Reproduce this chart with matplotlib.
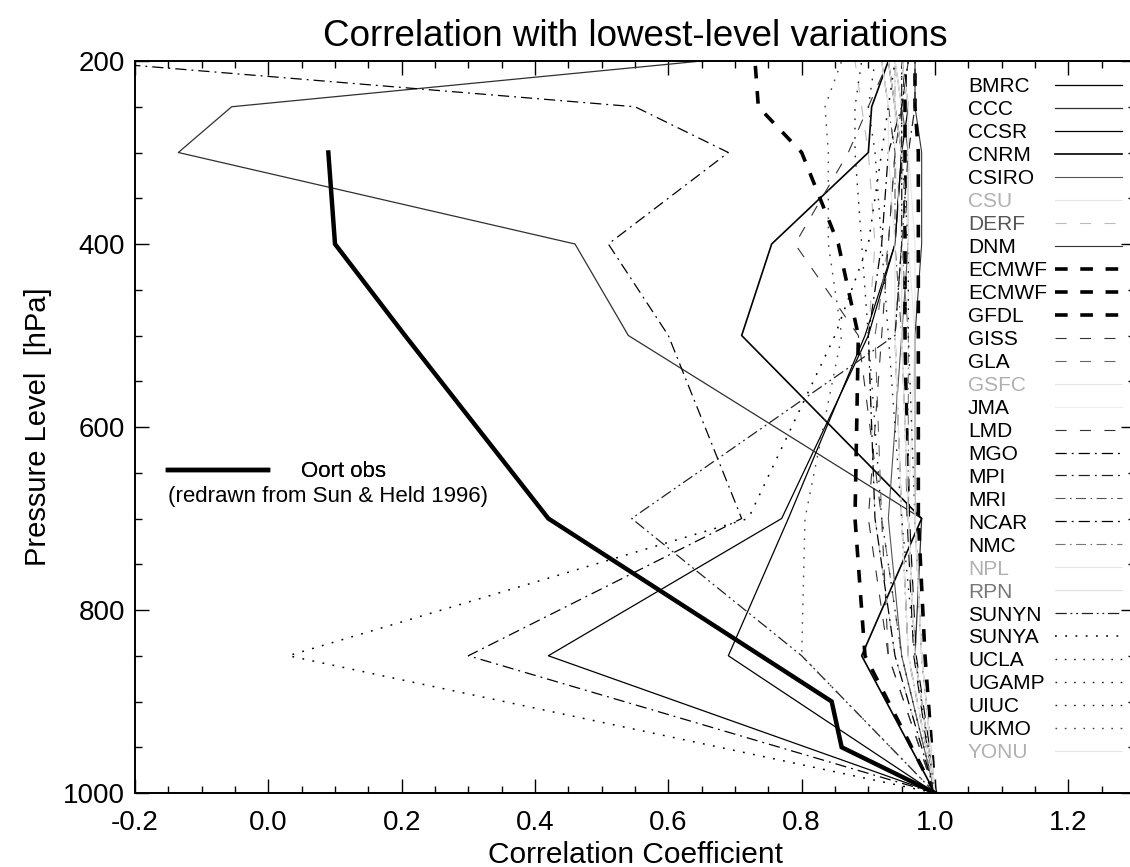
import matplotlib
matplotlib.use("Agg")
import matplotlib.pyplot as plt
from matplotlib.lines import Line2D

plt.rcParams['font.family'] = ['Liberation Sans', 'DejaVu Sans']

# ---------------- data ----------------
levels = [1000, 850, 700, 500, 400, 300, 250, 200]

oort_levels = [1000, 950, 900, 700, 500, 400, 300]
oort_corr = [1.0, 0.86, 0.845, 0.42, 0.205, 0.10, 0.09]

models = ["BMRC", "CCC", "CCSR", "CNRM", "CSIRO", "CSU", "DERF", "DNM",
          "ECMWF", "ECMWF", "GFDL", "GISS", "GLA", "GSFC", "JMA", "LMD",
          "MGO", "MPI", "MRI", "NCAR", "NMC", "NPL", "RPN", "SUNYN",
          "SUNYA", "UCLA", "UGAMP", "UIUC", "UKMO", "YONU"]

corr = {
    "BMRC":  [1.0, 0.42, 0.77, 0.90, 0.94, 0.95, 0.94, 0.93],
    "CCC":   [1.0, 0.97, 0.98, 0.54, 0.46, -0.135, -0.055, 0.65],
    "CCSR":  [1.0, 0.69, 0.78, 0.895, 0.94, 0.95, 0.96, 0.95],
    "CNRM":  [1.0, 0.89, 0.98, 0.71, 0.755, 0.90, 0.905, 0.93],
    "CSIRO": [1.0, 0.95, 0.93, 0.95, 0.96, 0.96, 0.95, 0.94],
    "CSU":   [1.0, 0.97, 0.96, 0.97, 0.97, 0.96, 0.96, 0.95],
    "DERF":  [1.0, 0.94, 0.91, 0.90, 0.91, 0.90, 0.89, 0.88],
    "DNM":   [1.0, 0.98, 0.97, 0.97, 0.98, 0.98, 0.97, 0.97],
    "ECMWF": [1.0, 0.895, 0.88, 0.885, 0.855, 0.80, 0.735, 0.73],
    "ECMWF2":[1.0, 0.97, 0.96, 0.955, 0.955, 0.955, 0.955, 0.955],
    "GFDL":  [1.0, 0.985, 0.975, 0.975, 0.975, 0.975, 0.97, 0.97],
    "GISS":  [1.0, 0.93, 0.92, 0.885, 0.79, 0.87, 0.90, 0.93],
    "GLA":   [1.0, 0.95, 0.92, 0.91, 0.93, 0.94, 0.93, 0.92],
    "GSFC":  [1.0, 0.97, 0.96, 0.95, 0.95, 0.94, 0.94, 0.93],
    "JMA":   [1.0, 0.98, 0.97, 0.96, 0.96, 0.95, 0.95, 0.94],
    "LMD":   [1.0, 0.93, 0.90, 0.92, 0.93, 0.94, 0.95, 0.96],
    "MGO":   [1.0, 0.30, 0.71, 0.60, 0.51, 0.69, 0.55, -0.28],
    "MPI":   [1.0, 0.96, 0.95, 0.94, 0.95, 0.96, 0.97, 0.97],
    "MRI":   [1.0, 0.97, 0.96, 0.95, 0.94, 0.94, 0.93, 0.92],
    "NCAR":  [1.0, 0.94, 0.91, 0.90, 0.92, 0.93, 0.95, 0.96],
    "NMC":   [1.0, 0.97, 0.96, 0.96, 0.95, 0.95, 0.94, 0.94],
    "NPL":   [1.0, 0.96, 0.95, 0.94, 0.94, 0.93, 0.93, 0.92],
    "RPN":   [1.0, 0.97, 0.96, 0.95, 0.95, 0.95, 0.94, 0.94],
    "SUNYN": [1.0, 0.80, 0.545, 0.94, 0.95, 0.95, 0.95, 0.95],
    "SUNYA": [1.0, 0.03, 0.72, 0.85, 0.90, 0.92, 0.93, 0.94],
    "UCLA":  [1.0, 0.95, 0.92, 0.90, 0.89, 0.88, 0.88, 0.89],
    "UGAMP": [1.0, 0.97, 0.95, 0.93, 0.92, 0.91, 0.90, 0.91],
    "UIUC":  [1.0, 0.98, 0.97, 0.96, 0.96, 0.95, 0.95, 0.95],
    "UKMO":  [1.0, 0.80, 0.805, 0.86, 0.84, 0.84, 0.835, 0.86],
    "YONU":  [1.0, 0.98, 0.97, 0.97, 0.96, 0.96, 0.96, 0.95],
}
corr_keys = ["BMRC", "CCC", "CCSR", "CNRM", "CSIRO", "CSU", "DERF", "DNM",
             "ECMWF", "ECMWF2", "GFDL", "GISS", "GLA", "GSFC", "JMA", "LMD",
             "MGO", "MPI", "MRI", "NCAR", "NMC", "NPL", "RPN", "SUNYN",
             "SUNYA", "UCLA", "UGAMP", "UIUC", "UKMO", "YONU"]

# ---------------- styles ----------------
solid = '-'
dash_thick = (0, (3.5, 3.5))
dash_thin = (0, (10, 12))
dashdot = (0, (9, 4, 1.5, 4))
dashdotdot = (0, (9, 3, 1.5, 3, 1.5, 3))
dot = (0, (1.2, 5.5))

style = {
    "BMRC": (solid, 0.9, '#000000'), "CCC": (solid, 0.9, '#303030'),
    "CCSR": (solid, 0.9, '#000000'), "CNRM": (solid, 1.2, '#000000'),
    "CSIRO": (solid, 0.8, '#555555'), "CSU": (solid, 0.8, '#e6e6e6'),
    "DERF": (dash_thin, 0.8, '#bbbbbb'), "DNM": (solid, 0.8, '#333333'),
    "ECMWF": (dash_thick, 2.6, '#000000'), "ECMWF2": (dash_thick, 2.6, '#000000'),
    "GFDL": (dash_thick, 2.6, '#000000'), "GISS": (dash_thin, 0.8, '#333333'),
    "GLA": (dash_thin, 0.8, '#666666'), "GSFC": (solid, 0.8, '#e6e6e6'),
    "JMA": (solid, 0.8, '#eeeeee'), "LMD": (dash_thin, 0.8, '#333333'),
    "MGO": (dashdot, 0.9, '#000000'), "MPI": (dashdot, 0.9, '#222222'),
    "MRI": (dashdot, 0.8, '#555555'), "NCAR": (dashdot, 0.9, '#000000'),
    "NMC": (dashdot, 0.8, '#777777'), "NPL": (solid, 0.8, '#e6e6e6'),
    "RPN": (solid, 0.8, '#e0e0e0'), "SUNYN": (dashdotdot, 0.9, '#222222'),
    "SUNYA": (dot, 1.1, '#000000'), "UCLA": (dot, 1.0, '#222222'),
    "UGAMP": (dot, 1.0, '#222222'), "UIUC": (dot, 1.0, '#222222'),
    "UKMO": (dot, 1.0, '#444444'), "YONU": (solid, 0.8, '#e6e6e6'),
}
label_colors = {"CSU": '#b0b0b0', "DERF": '#555555', "GSFC": '#b0b0b0',
                "NPL": '#b0b0b0', "RPN": '#777777', "YONU": '#b0b0b0'}

# ---------------- figure ----------------
fig = plt.figure(figsize=(11.30, 8.67), dpi=100)
ax = fig.add_axes([135 / 1130, (867 - 793) / 867, 1000 / 1130, 732 / 867])

handles = []
for key, name in zip(corr_keys, models):
    ls, lw, col = style[key]
    ax.plot(corr[key], levels, linestyle=ls, linewidth=lw, color=col)
    handles.append(Line2D([], [], linestyle=ls, linewidth=lw, color=col))

ax.plot(oort_corr, oort_levels, color='black', linewidth=3.2,
        solid_joinstyle='miter')

ax.set_xlim(-0.2, 1.3)
ax.set_ylim(1000, 200)
ax.set_xticks([-0.2, 0.0, 0.2, 0.4, 0.6, 0.8, 1.0, 1.2])
ax.set_xticklabels(["-0.2", "0.0", "0.2", "0.4", "0.6", "0.8", "1.0", "1.2"])
ax.set_yticks([200, 400, 600, 800, 1000])
ax.set_xticks([x / 20 for x in range(-4, 27)], minor=True)
ax.set_yticks(list(range(200, 1001, 50)), minor=True)
ax.tick_params(which='both', direction='in', top=True, right=True,
               labelsize=20, width=1.0)
ax.tick_params(axis='x', pad=12)
ax.tick_params(axis='y', pad=7)
ax.tick_params(which='major', length=10)
ax.tick_params(which='minor', length=5)
for s in ax.spines.values():
    s.set_linewidth(1.4)

ax.set_title("Correlation with lowest-level variations", fontsize=26.5, pad=11)
ax.set_xlabel("Correlation Coefficient", fontsize=21.5, labelpad=4)
ax.set_ylabel("Pressure Level  [hPa]", fontsize=21, labelpad=8)

# model legend: labels column and line-sample column
fs = 15
lab_handles = [Line2D([], [], linestyle='none') for _ in models]
leg1 = ax.legend(lab_handles, models, loc='upper left',
                 bbox_to_anchor=(0.833, 0.9775), frameon=False, fontsize=fs,
                 handlelength=0, handletextpad=0, borderpad=0,
                 borderaxespad=0, labelspacing=0.19,
                 labelcolor=[label_colors.get(m, '#000000') for m in models])
ax.add_artist(leg1)
leg2 = ax.legend(handles, [" "] * len(models), loc='upper left',
                 bbox_to_anchor=(0.92, 0.9775), frameon=False, fontsize=fs,
                 handlelength=3.2, handletextpad=0, borderpad=0,
                 borderaxespad=0, labelspacing=0.19)
ax.add_artist(leg2)

# Oort legend
leg3 = ax.legend([Line2D([], [], color='black', linewidth=3.2)], ["Oort obs"],
                 loc='upper left', bbox_to_anchor=(0.033, 0.453), frameon=False,
                 fontsize=16, handlelength=4.5, handletextpad=1.5,
                 borderpad=0, borderaxespad=0)
ax.add_artist(leg3)
ax.text(0.033, 0.419, "(redrawn from Sun & Held 1996)", transform=ax.transAxes,
        fontsize=16, va='top', ha='left')

fig.savefig("out.png", dpi=100)
